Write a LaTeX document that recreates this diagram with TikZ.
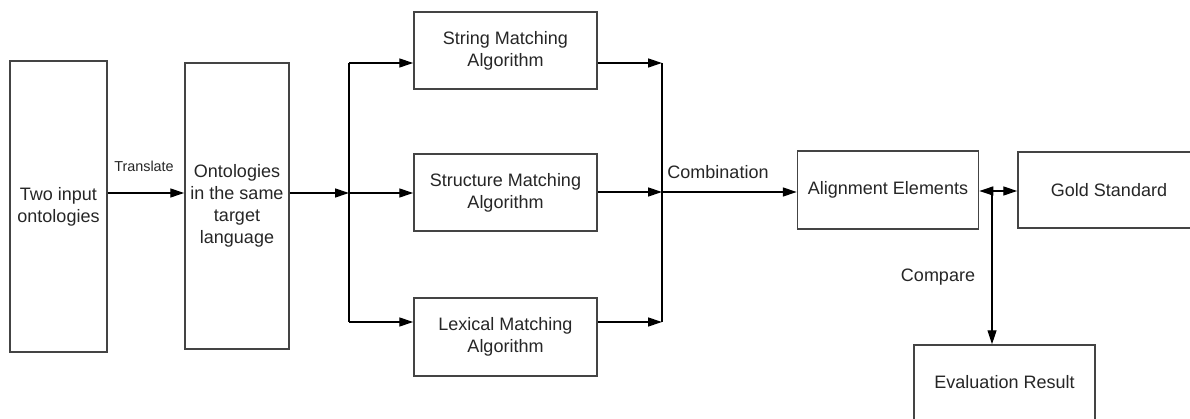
\documentclass[tikz,border=0pt]{standalone}
\usepackage{fontspec}
\setmainfont{Liberation Sans}
\usetikzlibrary{arrows.meta}
\definecolor{boxline}{HTML}{444444}
\definecolor{txt}{HTML}{262626}
\begin{document}
\begin{tikzpicture}[x=1pt,y=-1pt,
  box/.style={draw=boxline,line width=1.5pt,fill=white,inner sep=0pt,align=center,
    text=txt,font=\fontsize{18}{22}\selectfont},
  arr/.style={line width=1.3pt,-{Triangle[length=14pt,width=9pt]}},
  darr/.style={line width=1.3pt,{Triangle[length=14pt,width=9pt]}-{Triangle[length=14pt,width=9pt]}},
  ln/.style={line width=1.3pt},
  lbl/.style={text=txt,font=\fontsize{18}{22}\selectfont,inner sep=0pt},
  slbl/.style={text=txt,font=\fontsize{14.4}{17}\selectfont,inner sep=0pt}]
\useasboundingbox (0,0) rectangle (1190,419);
\clip (0,0) rectangle (1190,419);
\fill[white] (0,0) rectangle (1190,419);

\node[box,minimum width=97pt,minimum height=291pt] (inp) at (58.5,206.5) {Two input\\ontologies};
\node[box,minimum width=104pt,minimum height=286pt] (tgt) at (237,206) {Ontologies\\in the same\\target\\language};
\node[box,minimum width=183pt,minimum height=77pt] (str) at (505.5,50.5) {String Matching\\Algorithm};
\node[box,minimum width=183pt,minimum height=77pt] (stc) at (505.5,192.5) {Structure Matching\\Algorithm};
\node[box,minimum width=183pt,minimum height=78pt] (lex) at (505.5,337) {Lexical Matching\\Algorithm};
\node[box,minimum width=181pt,minimum height=78pt] (ali) at (888,190) {Alignment Elements};
\node[box,minimum width=182pt,minimum height=76pt] (gold) at (1109,190) {Gold Standard};
\node[box,minimum width=181pt,minimum height=75pt] (eval) at (1004.5,382.5) {Evaluation Result};

\coordinate (sp) at (349,193);
\coordinate (s1) at (349,63);
\coordinate (s3) at (349,322);
\coordinate (j1) at (662,63);
\coordinate (j2) at (662,192);
\coordinate (j3) at (662,322);
\coordinate (cm) at (992,191);

\draw[arr] (inp.east |- sp) -- (tgt.west |- sp);
\draw[arr] (tgt.east |- sp) -- (sp);
\draw[ln] (s1) -- (s3);
\draw[arr] (s1) -- (str.west |- s1);
\draw[arr] (sp) -- (stc.west |- sp);
\draw[arr] (s3) -- (lex.west |- s3);
\draw[arr] (str.east |- j1) -- (j1);
\draw[arr] (stc.east |- j2) -- (j2);
\draw[arr] (lex.east |- j3) -- (j3);
\draw[ln] (j1) -- (j3);
\draw[arr] (j2) -- (ali.west |- j2);
\draw[darr] (ali.east |- cm) -- (gold.west |- cm);
\draw[arr] (cm) -- (eval.north -| cm);

\node[slbl] (tr) at (144,166) {Translate};
\node[lbl] (co) at (718,172) {Combination};
\node[lbl] (cp) at (938,277) {Compare};
\end{tikzpicture}
\end{document}
